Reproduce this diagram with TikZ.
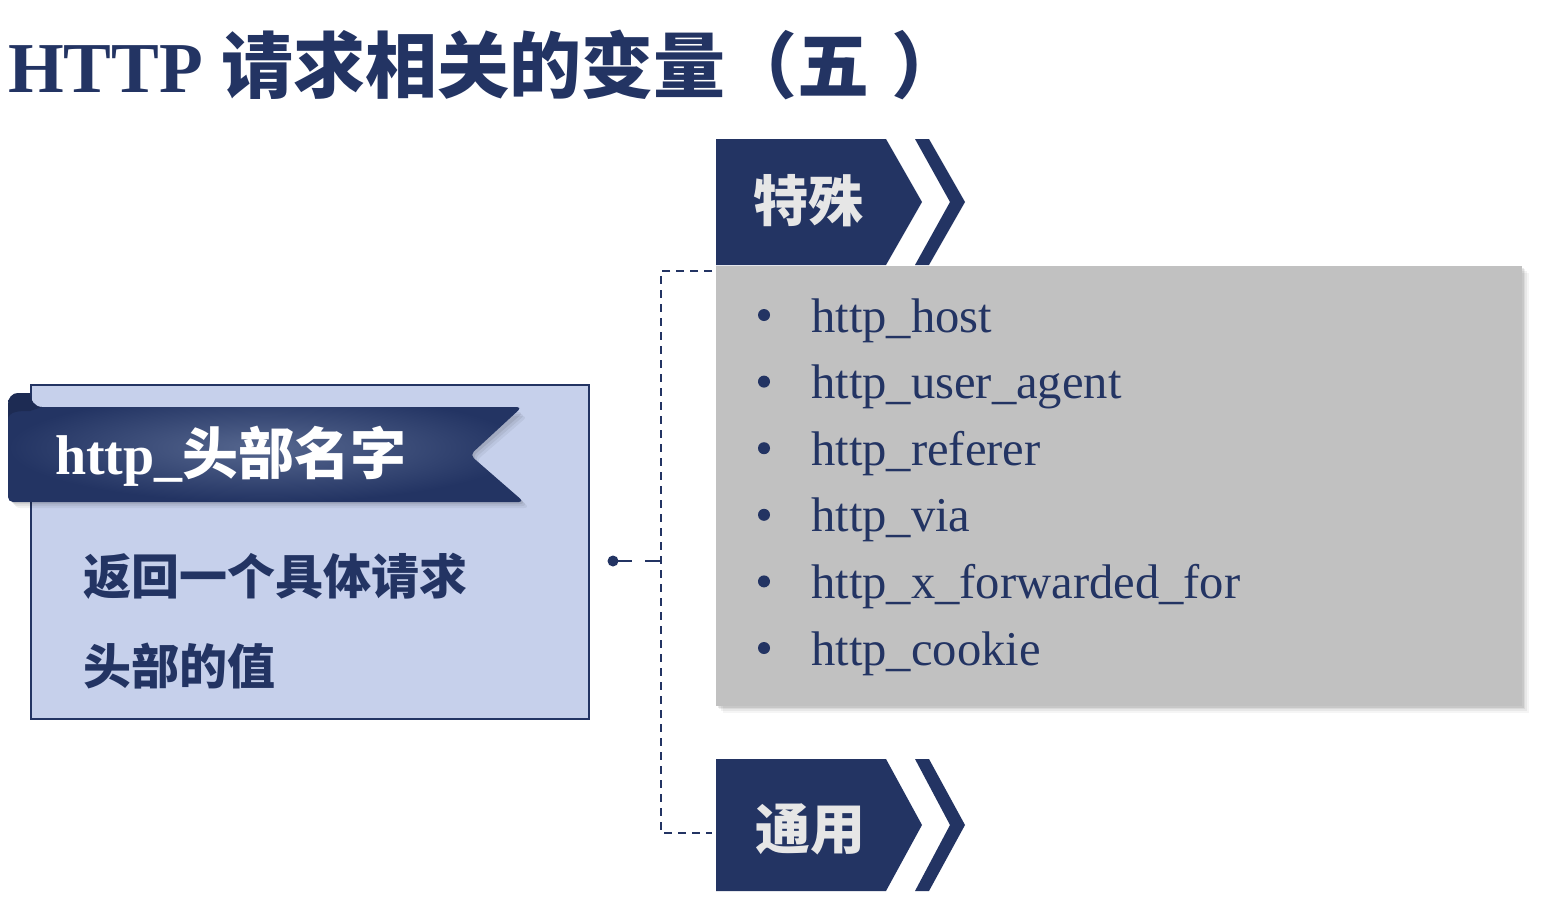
\documentclass[tikz,border=0pt]{standalone}
\usepackage{fontspec}
\setmainfont{Liberation Serif}
\newfontfamily\cjk{Noto Sans CJK SC}
\usetikzlibrary{calc}

\definecolor{navy}{HTML}{233463}
\definecolor{navylight}{HTML}{56678F}
\definecolor{panelblue}{HTML}{C6D0EB}
\definecolor{listgray}{HTML}{C1C1C1}
\definecolor{chevtext}{HTML}{E6E6E6}

\newcommand{\px}[1]{\fontsize{#1}{#1}\selectfont}

\tikzset{
  chevron/.style={fill=navy, draw=none},
  chevlabel/.style={text=chevtext, font=\cjk\bfseries\px{55}, inner sep=0pt},
  listitem/.style={anchor=base west, text=navy, font=\px{48.6}, inner sep=0pt},
  bulletdot/.style={circle, fill=navy, inner sep=0pt, minimum size=12pt},
  link/.style={draw=navy, line width=2pt, dash pattern=on 8pt off 6pt},
  bodytext/.style={anchor=base west, text=navy, font=\cjk\bfseries\px{48}, inner sep=0pt},
}

\begin{document}
\begin{tikzpicture}[x=1pt, y=-1pt]
  % page
  \fill[white] (0,0) rectangle (1566,916);
  \useasboundingbox (0,0) rectangle (1566,916);

  % heading
  \node[anchor=base west, inner sep=0pt, text=navy] (title) at (8,92)
    {\px{71.6}\bfseries HTTP {\cjk\px{72}请求相关的变量（五\hspace{22pt}）}};

  % ---- left card ----
  \node[draw=navy, line width=1.5pt, fill=panelblue, minimum width=558pt,
        minimum height=334pt, anchor=north west, inner sep=0pt] (card) at (30,384) {};

  % ribbon shadow
  \foreach \d/\o in {6/0.05,4/0.06,2/0.08}{
    \fill[black, opacity=\o, rounded corners=6pt]
      (8+\d,410+\d) -- (522+\d,410+\d) -- (470+\d,455+\d) -- (524+\d,502+\d) -- (8+\d,502+\d) -- cycle;
  }
  % ribbon body with its curled left end
  \path[inner color=navylight, outer color=navy]
    (8,490) -- (8,404) to[out=90, in=180] (18,393) -- (30,393)
    to[out=-90, in=180] (42,407) [rounded corners=5pt] -- (522,407) -- (470,455) -- (524,502)
    -- (8,502) [sharp corners] -- cycle;
  % shading on the curl
  \fill[navy!70!black, opacity=0.5] (8,404) to[out=90, in=180] (18,393) -- (30,393)
    to[out=-90, in=180] (42,407) -- (30,411) to[out=180, in=90] (8,420) -- cycle;
  \node[anchor=base west, inner sep=0pt, text=white] (ribbon) at (55,474)
    {\px{56}\bfseries http\_{\cjk 头部名字}};

  \node[bodytext] (desc1) at (83,594) {返回一个具体请求};
  \node[bodytext] (desc2) at (83,684) {头部的值};

  % ---- list panel with soft shadow ----
  \foreach \d/\o in {7/0.04,5/0.05,3/0.06,1.5/0.08}{
    \fill[black, opacity=\o] (716+\d,266+\d) rectangle (1522+\d,706+\d);
  }
  \node[fill=listgray, minimum width=806pt, minimum height=440pt, anchor=north west,
        inner sep=0pt] (list) at (716,266) {};

  \foreach \t [count=\i] in {http\_host, http\_user\_agent, http\_referer,
                             http\_via, http\_x\_forwarded\_for, http\_cookie}{
    \pgfmathsetmacro{\yb}{332+(\i-1)*66.6}
    \node[bulletdot] (b\i) at (764,\yb-17) {};
    \node[listitem] (item\i) at (811,\yb) {\t};
  }

  % ---- chevron labels ----
  \path[chevron] (716,139) -- (886,139) -- (922,202) -- (886,265) -- (716,265) -- cycle;
  \path[chevron] (915,139) -- (929,139) -- (965,202) -- (929,265) -- (915,265) -- (950,202) -- cycle;
  \node[chevlabel] (special) at (808,201) {特殊};

  \path[chevron] (716,759) -- (886,759) -- (922,825) -- (886,891) -- (716,891) -- cycle;
  \path[chevron] (915,759) -- (929,759) -- (965,825) -- (929,891) -- (915,891) -- (950,825) -- cycle;
  \node[chevlabel] (general) at (810,829) {通用};

  % ---- dashed bracket joining card to both groups ----
  \node[circle, fill=navy, inner sep=0pt, minimum size=11pt] (dot) at (613,561) {};
  \coordinate (join) at (661,561);
  \coordinate (topc) at (661,271);
  \coordinate (botc) at (661,833);
  \coordinate (topend) at (712,271);
  \coordinate (botend) at (712,833);

  \draw[draw=navy, line width=2.5pt, dash pattern=on 19pt off 13pt on 20pt] (dot.center) -- (join);
  \draw[link] (topend) -- (topc) -- (botc) -- (botend);
\end{tikzpicture}
\end{document}
